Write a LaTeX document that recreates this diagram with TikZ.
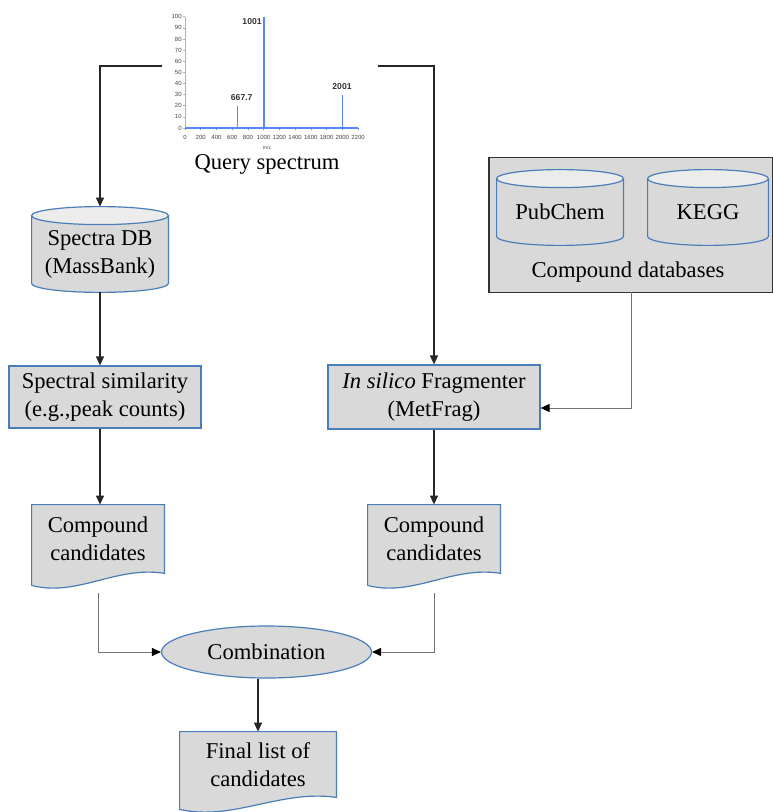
\documentclass[tikz,border=0pt]{standalone}
\usepackage{fontspec}
\setmainfont{Liberation Serif}
\newfontfamily\chartfont{Liberation Sans}
\usetikzlibrary{arrows.meta,calc,shapes.geometric,backgrounds}
\definecolor{boxblue}{RGB}{74,126,187}
\definecolor{boxgray}{RGB}{217,217,217}
\definecolor{toplight}{RGB}{236,236,236}
\definecolor{peakblue}{RGB}{85,135,255}

% database drum round a node that spans top-ellipse centre to bottom
\newcommand{\dbshape}[1]{%
  \path let \p1=($(#1.east)-(#1.west)$), \n1={0.5*\x1} in
    [fill=boxgray] (#1.north west) -- ([yshift=4.5pt]#1.south west)
      arc[start angle=180,end angle=360,x radius=\n1,y radius=4.5pt]
      -- (#1.north east) -- cycle;
  \path let \p1=($(#1.east)-(#1.west)$), \n1={0.5*\x1} in
    [draw=boxblue,line width=0.6pt] (#1.north west) -- ([yshift=4.5pt]#1.south west)
      arc[start angle=180,end angle=360,x radius=\n1,y radius=4.5pt]
      -- (#1.north east);
  \path let \p1=($(#1.east)-(#1.west)$), \n1={0.5*\x1} in
    [draw=boxblue,fill=toplight,line width=0.6pt] (#1.north)
      ellipse[x radius=\n1,y radius=4.5pt];}
% document sheet with a wavy lower edge
\newcommand{\docshape}[1]{%
  \filldraw[draw=boxblue,fill=boxgray,line width=0.6pt]
    (#1.north west) -- (#1.north east) -- (#1.south east)
    .. controls ($(#1.south west)!0.64!(#1.south east)+(0,-8)$)
    and ($(#1.south west)!0.34!(#1.south east)+(0,24)$) .. ([yshift=-6pt]#1.south west)
    -- cycle;}

\begin{document}
\begin{tikzpicture}[x=0.5pt,y=-0.5pt,
  every node/.style={font=\rmfamily\fontsize{11.3}{14}\selectfont,align=center,inner sep=0pt},
  proc/.style={rectangle,draw=boxblue,fill=boxgray,line width=0.6pt},
  flow/.style={draw=black!85,line width=0.75pt,-{Triangle[length=4.5pt,width=4pt]}},
  thinflow/.style={draw=black!55,line width=0.5pt,-{Triangle[length=4.5pt,width=4pt,color=black]}},
  ticklbl/.style={font=\chartfont\fontsize{3}{3}\selectfont,text=black!75},
  peaklbl/.style={font=\chartfont\bfseries\fontsize{4.3}{4.3}\selectfont,text=black!80}]
  \useasboundingbox (0,0) rectangle (772,812);
  \clip (0,0) rectangle (772,812);

  % query spectrum
  \draw[gray!60,line width=0.3pt] (185,16.7) -- (185,128);
  \draw[peakblue,line width=0.6pt] (185,128) -- (358,128);
  \foreach \v in {0,10,...,100}{
    \draw[gray!60,line width=0.3pt] (183,128-1.113*\v) -- (185,128-1.113*\v);
    \node[ticklbl,anchor=east] (yl\v) at (182,128-1.113*\v) {\v};}
  \foreach \v in {0,200,...,2200}{
    \draw[peakblue,line width=0.3pt] (185+0.07864*\v,128) -- (185+0.07864*\v,130);
    \node[ticklbl] (xl\v) at (185+0.07864*\v,137) {\v};}
  \draw[peakblue,line width=0.8pt] (237.5,128) -- (237.5,105.7);
  \draw[peakblue,line width=0.8pt] (263.7,128) -- (263.7,16.7);
  \draw[peakblue,line width=0.8pt] (342.4,128) -- (342.4,94.6);
  \node[peaklbl] (pk1) at (241.7,98) {667.7};
  \node[peaklbl,anchor=east] (pk2) at (262,22) {1001};
  \node[peaklbl] (pk3) at (342,87) {2001};
  \node[ticklbl,font=\chartfont\fontsize{2.5}{2.5}\selectfont] (mz) at (267,148) {m/z};
  \node (qs) at (267,164) {Query spectrum};
  \coordinate (specL) at (162,66);
  \coordinate (specR) at (378,66);

  % left branch
  \node[minimum width=68pt,minimum height=38pt] (sdb) at (100,254) {Spectra DB\\(MassBank)};
  \node[proc,minimum width=96pt,minimum height=31pt] (sim) at (105,397) {Spectral similarity\\(e.g.,peak counts)};
  \node[minimum width=66pt,minimum height=34pt] (ldoc) at (98,539) {Compound\\candidates};

  % right branch
  \node[minimum width=141.5pt,minimum height=67pt] (cdb) at (631,225) {};
  \node[minimum width=63pt,minimum height=33pt] (pubchem) at (560,212) {PubChem};
  \node[minimum width=60pt,minimum height=33pt] (kegg) at (708,212) {KEGG};
  \node (cdblabel) at (628,272) {Compound databases};
  \node[proc,minimum width=106pt,minimum height=32pt] (frag) at (434,397) {\textit{In silico} Fragmenter\\(MetFrag)};
  \node[minimum width=66pt,minimum height=34pt] (rdoc) at (434,539) {Compound\\candidates};

  % merge
  \node[ellipse,draw=boxblue,fill=boxgray,line width=0.6pt,minimum width=105pt,minimum height=26pt] (comb) at (266.5,652) {Combination};
  \node[minimum width=78pt,minimum height=32.5pt] (fin) at (258,764.5) {Final list of\\candidates};

  \begin{scope}[on background layer]
    \filldraw[draw=black!80,fill=boxgray,line width=0.8pt] (cdb.north west) rectangle (cdb.south east);
    \dbshape{sdb}
    \dbshape{pubchem}
    \dbshape{kegg}
    \docshape{ldoc}
    \docshape{rdoc}
    \docshape{fin}
  \end{scope}

  \draw[flow] (specL) -| ([yshift=4.5pt]sdb.north);
  \draw[flow] (specR) -| (frag.north);
  \draw[flow] (sdb.south) -- (sdb.south |- sim.north);
  \draw[flow] (sim.south -| sdb) -- (ldoc.north -| sdb);
  \draw[thinflow] (cdb.south) |- ([yshift=-5.5pt]frag.east);
  \draw[flow] (frag.south) -- (rdoc.north -| frag.south);
  \draw[thinflow] ([yshift=-10pt]ldoc.south) |- (comb.west);
  \draw[thinflow] ([yshift=-10pt]rdoc.south) |- (comb.east);
  \draw[flow] (comb.south -| fin.north) -- (fin.north);
\end{tikzpicture}
\end{document}
